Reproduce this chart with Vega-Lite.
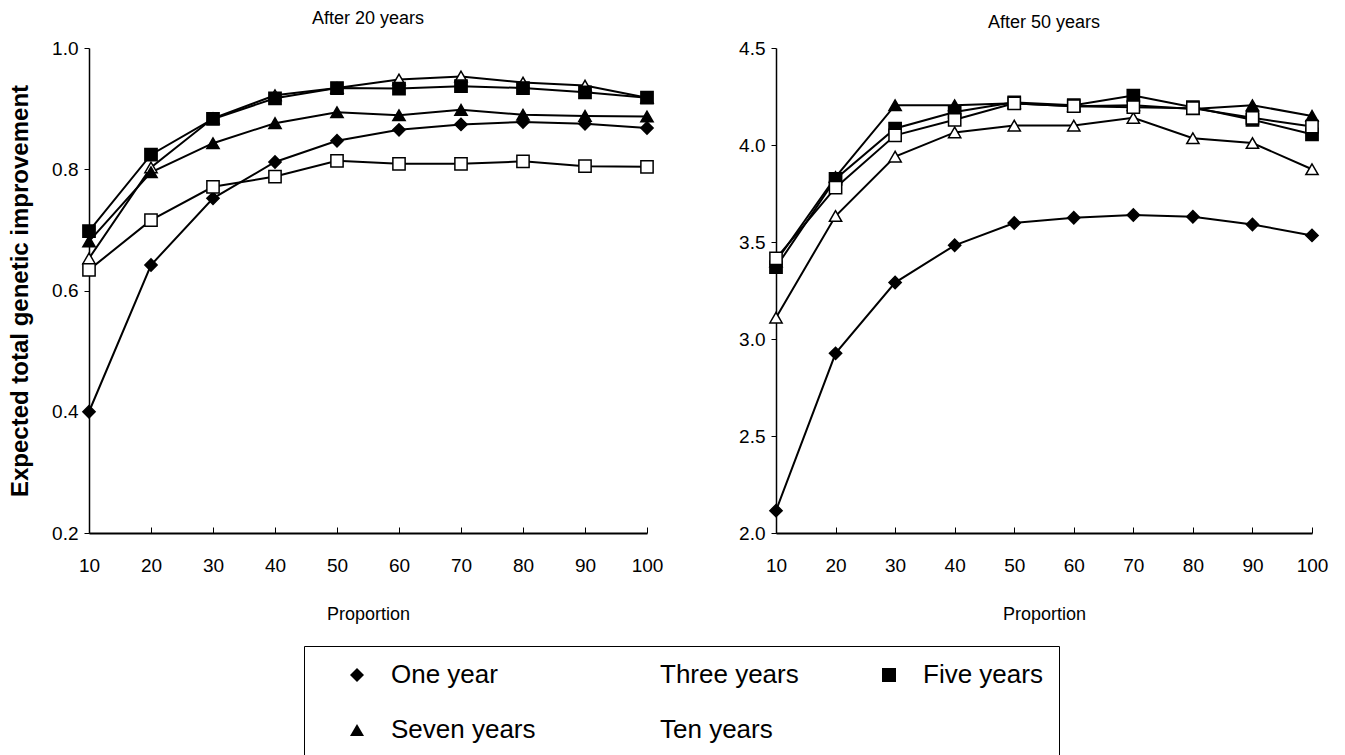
{
  "$schema": "https://vega.github.io/schema/vega-lite/v6.json",
  "background": "white",
  "padding": {"left": 8, "top": 10, "right": 5, "bottom": 0},
  "config": {
    "view": {"stroke": null},
    "font": "Liberation Sans",
    "axis": {"grid": false, "domainColor": "black", "tickColor": "black", "labelColor": "black", "titleColor": "black", "labelFont": "Liberation Sans", "labelFontSize": 19, "titleFont": "Liberation Sans", "titleFontWeight": "normal", "labelFlush": false, "labelOverlap": false},
    "title": {"fontSize": 18, "fontWeight": "normal", "font": "Liberation Sans", "color": "black"},
    "concat": {"spacing": 75}
  },
  "datasets": {
    "d": [
      {"panel": "A", "series": "One year", "proportion": 10, "value": 0.400},
      {"panel": "A", "series": "One year", "proportion": 20, "value": 0.642},
      {"panel": "A", "series": "One year", "proportion": 30, "value": 0.752},
      {"panel": "A", "series": "One year", "proportion": 40, "value": 0.812},
      {"panel": "A", "series": "One year", "proportion": 50, "value": 0.847},
      {"panel": "A", "series": "One year", "proportion": 60, "value": 0.865},
      {"panel": "A", "series": "One year", "proportion": 70, "value": 0.874},
      {"panel": "A", "series": "One year", "proportion": 80, "value": 0.878},
      {"panel": "A", "series": "One year", "proportion": 90, "value": 0.875},
      {"panel": "A", "series": "One year", "proportion": 100, "value": 0.868},
      {"panel": "A", "series": "Three years", "proportion": 10, "value": 0.653},
      {"panel": "A", "series": "Three years", "proportion": 20, "value": 0.803},
      {"panel": "A", "series": "Three years", "proportion": 30, "value": 0.884},
      {"panel": "A", "series": "Three years", "proportion": 40, "value": 0.922},
      {"panel": "A", "series": "Three years", "proportion": 50, "value": 0.934},
      {"panel": "A", "series": "Three years", "proportion": 60, "value": 0.948},
      {"panel": "A", "series": "Three years", "proportion": 70, "value": 0.953},
      {"panel": "A", "series": "Three years", "proportion": 80, "value": 0.943},
      {"panel": "A", "series": "Three years", "proportion": 90, "value": 0.938},
      {"panel": "A", "series": "Three years", "proportion": 100, "value": 0.918},
      {"panel": "A", "series": "Five years", "proportion": 10, "value": 0.698},
      {"panel": "A", "series": "Five years", "proportion": 20, "value": 0.824},
      {"panel": "A", "series": "Five years", "proportion": 30, "value": 0.883},
      {"panel": "A", "series": "Five years", "proportion": 40, "value": 0.917},
      {"panel": "A", "series": "Five years", "proportion": 50, "value": 0.934},
      {"panel": "A", "series": "Five years", "proportion": 60, "value": 0.933},
      {"panel": "A", "series": "Five years", "proportion": 70, "value": 0.937},
      {"panel": "A", "series": "Five years", "proportion": 80, "value": 0.934},
      {"panel": "A", "series": "Five years", "proportion": 90, "value": 0.927},
      {"panel": "A", "series": "Five years", "proportion": 100, "value": 0.918},
      {"panel": "A", "series": "Seven years", "proportion": 10, "value": 0.681},
      {"panel": "A", "series": "Seven years", "proportion": 20, "value": 0.795},
      {"panel": "A", "series": "Seven years", "proportion": 30, "value": 0.843},
      {"panel": "A", "series": "Seven years", "proportion": 40, "value": 0.876},
      {"panel": "A", "series": "Seven years", "proportion": 50, "value": 0.894},
      {"panel": "A", "series": "Seven years", "proportion": 60, "value": 0.889},
      {"panel": "A", "series": "Seven years", "proportion": 70, "value": 0.898},
      {"panel": "A", "series": "Seven years", "proportion": 80, "value": 0.890},
      {"panel": "A", "series": "Seven years", "proportion": 90, "value": 0.888},
      {"panel": "A", "series": "Seven years", "proportion": 100, "value": 0.887},
      {"panel": "A", "series": "Ten years", "proportion": 10, "value": 0.634},
      {"panel": "A", "series": "Ten years", "proportion": 20, "value": 0.716},
      {"panel": "A", "series": "Ten years", "proportion": 30, "value": 0.771},
      {"panel": "A", "series": "Ten years", "proportion": 40, "value": 0.788},
      {"panel": "A", "series": "Ten years", "proportion": 50, "value": 0.814},
      {"panel": "A", "series": "Ten years", "proportion": 60, "value": 0.809},
      {"panel": "A", "series": "Ten years", "proportion": 70, "value": 0.809},
      {"panel": "A", "series": "Ten years", "proportion": 80, "value": 0.813},
      {"panel": "A", "series": "Ten years", "proportion": 90, "value": 0.805},
      {"panel": "A", "series": "Ten years", "proportion": 100, "value": 0.804},
      {"panel": "B", "series": "One year", "proportion": 10, "value": 2.115},
      {"panel": "B", "series": "One year", "proportion": 20, "value": 2.926},
      {"panel": "B", "series": "One year", "proportion": 30, "value": 3.291},
      {"panel": "B", "series": "One year", "proportion": 40, "value": 3.483},
      {"panel": "B", "series": "One year", "proportion": 50, "value": 3.598},
      {"panel": "B", "series": "One year", "proportion": 60, "value": 3.625},
      {"panel": "B", "series": "One year", "proportion": 70, "value": 3.639},
      {"panel": "B", "series": "One year", "proportion": 80, "value": 3.630},
      {"panel": "B", "series": "One year", "proportion": 90, "value": 3.590},
      {"panel": "B", "series": "One year", "proportion": 100, "value": 3.534},
      {"panel": "B", "series": "Three years", "proportion": 10, "value": 3.110},
      {"panel": "B", "series": "Three years", "proportion": 20, "value": 3.634},
      {"panel": "B", "series": "Three years", "proportion": 30, "value": 3.940},
      {"panel": "B", "series": "Three years", "proportion": 40, "value": 4.065},
      {"panel": "B", "series": "Three years", "proportion": 50, "value": 4.100},
      {"panel": "B", "series": "Three years", "proportion": 60, "value": 4.100},
      {"panel": "B", "series": "Three years", "proportion": 70, "value": 4.140},
      {"panel": "B", "series": "Three years", "proportion": 80, "value": 4.035},
      {"panel": "B", "series": "Three years", "proportion": 90, "value": 4.010},
      {"panel": "B", "series": "Three years", "proportion": 100, "value": 3.875},
      {"panel": "B", "series": "Five years", "proportion": 10, "value": 3.370},
      {"panel": "B", "series": "Five years", "proportion": 20, "value": 3.825},
      {"panel": "B", "series": "Five years", "proportion": 30, "value": 4.085},
      {"panel": "B", "series": "Five years", "proportion": 40, "value": 4.170},
      {"panel": "B", "series": "Five years", "proportion": 50, "value": 4.220},
      {"panel": "B", "series": "Five years", "proportion": 60, "value": 4.205},
      {"panel": "B", "series": "Five years", "proportion": 70, "value": 4.255},
      {"panel": "B", "series": "Five years", "proportion": 80, "value": 4.195},
      {"panel": "B", "series": "Five years", "proportion": 90, "value": 4.130},
      {"panel": "B", "series": "Five years", "proportion": 100, "value": 4.055},
      {"panel": "B", "series": "Seven years", "proportion": 10, "value": 3.400},
      {"panel": "B", "series": "Seven years", "proportion": 20, "value": 3.835},
      {"panel": "B", "series": "Seven years", "proportion": 30, "value": 4.205},
      {"panel": "B", "series": "Seven years", "proportion": 40, "value": 4.205},
      {"panel": "B", "series": "Seven years", "proportion": 50, "value": 4.215},
      {"panel": "B", "series": "Seven years", "proportion": 60, "value": 4.200},
      {"panel": "B", "series": "Seven years", "proportion": 70, "value": 4.205},
      {"panel": "B", "series": "Seven years", "proportion": 80, "value": 4.185},
      {"panel": "B", "series": "Seven years", "proportion": 90, "value": 4.205},
      {"panel": "B", "series": "Seven years", "proportion": 100, "value": 4.150},
      {"panel": "B", "series": "Ten years", "proportion": 10, "value": 3.415},
      {"panel": "B", "series": "Ten years", "proportion": 20, "value": 3.780},
      {"panel": "B", "series": "Ten years", "proportion": 30, "value": 4.050},
      {"panel": "B", "series": "Ten years", "proportion": 40, "value": 4.130},
      {"panel": "B", "series": "Ten years", "proportion": 50, "value": 4.215},
      {"panel": "B", "series": "Ten years", "proportion": 60, "value": 4.200},
      {"panel": "B", "series": "Ten years", "proportion": 70, "value": 4.195},
      {"panel": "B", "series": "Ten years", "proportion": 80, "value": 4.190},
      {"panel": "B", "series": "Ten years", "proportion": 90, "value": 4.140},
      {"panel": "B", "series": "Ten years", "proportion": 100, "value": 4.095}
    ]
  },
  "data": {"name": "d"},
  "hconcat": [
    {
      "width": 558,
      "height": 485,
      "title": {"text": "After 20 years", "offset": 11},
      "transform": [{"filter": "datum.panel === 'A'"}],
      "encoding": {
        "x": {"field": "proportion", "type": "quantitative", "scale": {"domain": [10, 100], "nice": false, "zero": false},
          "axis": {"values": [10, 20, 30, 40, 50, 60, 70, 80, 90, 100], "title": "Proportion", "titleFontSize": 18, "titlePadding": 30, "labelPadding": 29, "tickSize": -6, "domainWidth": 2, "tickWidth": 1}},
        "y": {"field": "value", "type": "quantitative", "scale": {"domain": [0.2, 1.0], "nice": false, "zero": false},
          "axis": {"values": [0.2, 0.4, 0.6, 0.8, 1.0], "format": ".1f", "title": "Expected total genetic improvement", "titleFontSize": 24, "titleFontWeight": "bold", "titlePadding": 19, "tickSize": 5, "labelPadding": 6, "domainWidth": 1.5}}
      },
      "layer": [
        {"mark": {"type": "line", "color": "black", "strokeWidth": 2}, "encoding": {"detail": {"field": "series"}}},
        {"mark": {"type": "point", "filled": true, "stroke": "black", "strokeWidth": 1.5, "size": 150, "opacity": 1},
          "encoding": {
            "shape": {"field": "series", "type": "nominal", "scale": {"domain": ["One year", "Three years", "Five years", "Seven years", "Ten years"], "range": ["diamond", "triangle-up", "square", "triangle-up", "square"]},
              "legend": {"orient": "none", "legendX": 215, "legendY": 598, "direction": "horizontal", "columns": 3, "title": null, "labelFontSize": 26, "labelFont": "Liberation Sans", "labelColor": "black", "symbolSize": 196, "symbolStrokeWidth": 2, "symbolStrokeColor": "black", "symbolOffset": 24, "labelOffset": 21, "columnPadding": 53, "rowPadding": 29, "padding": 16, "strokeColor": "black",
                "encode": {"legend": {"strokeWidth": {"value": 1.5}}, "symbols": {"stroke": {"value": "black"}, "strokeWidth": {"value": 2}, "opacity": {"value": 1}}}}},
            "fill": {"field": "series", "type": "nominal", "scale": {"domain": ["One year", "Three years", "Five years", "Seven years", "Ten years"], "range": ["black", "white", "black", "black", "white"]},
              "legend": {"orient": "none", "legendX": 215, "legendY": 598, "direction": "horizontal", "columns": 3, "title": null, "labelFontSize": 26, "labelFont": "Liberation Sans", "labelColor": "black", "symbolSize": 196, "symbolStrokeWidth": 2, "symbolStrokeColor": "black", "symbolOffset": 24, "labelOffset": 21, "columnPadding": 53, "rowPadding": 29, "padding": 16, "strokeColor": "black",
                "encode": {"legend": {"strokeWidth": {"value": 1.5}}, "symbols": {"stroke": {"value": "black"}, "strokeWidth": {"value": 2}, "opacity": {"value": 1}}}}}
          }}
      ]
    },
    {
      "width": 536,
      "height": 485,
      "title": {"text": "After 50 years", "offset": 7},
      "transform": [{"filter": "datum.panel === 'B'"}],
      "encoding": {
        "x": {"field": "proportion", "type": "quantitative", "scale": {"domain": [10, 100], "nice": false, "zero": false},
          "axis": {"values": [10, 20, 30, 40, 50, 60, 70, 80, 90, 100], "title": "Proportion", "titleFontSize": 18, "titlePadding": 30, "labelPadding": 29, "tickSize": -6, "domainWidth": 2, "tickWidth": 1}},
        "y": {"field": "value", "type": "quantitative", "scale": {"domain": [2.0, 4.5], "nice": false, "zero": false},
          "axis": {"values": [2.0, 2.5, 3.0, 3.5, 4.0, 4.5], "format": ".1f", "title": null, "tickSize": 5, "labelPadding": 6, "domainWidth": 1.5}}
      },
      "layer": [
        {"mark": {"type": "line", "color": "black", "strokeWidth": 2}, "encoding": {"detail": {"field": "series"}}},
        {"mark": {"type": "point", "filled": true, "stroke": "black", "strokeWidth": 1.5, "size": 150, "opacity": 1},
          "encoding": {
            "shape": {"field": "series", "type": "nominal"},
            "fill": {"field": "series", "type": "nominal"}
          }}
      ]
    }
  ],
  "resolve": {"scale": {"shape": "shared", "fill": "shared"}}
}
